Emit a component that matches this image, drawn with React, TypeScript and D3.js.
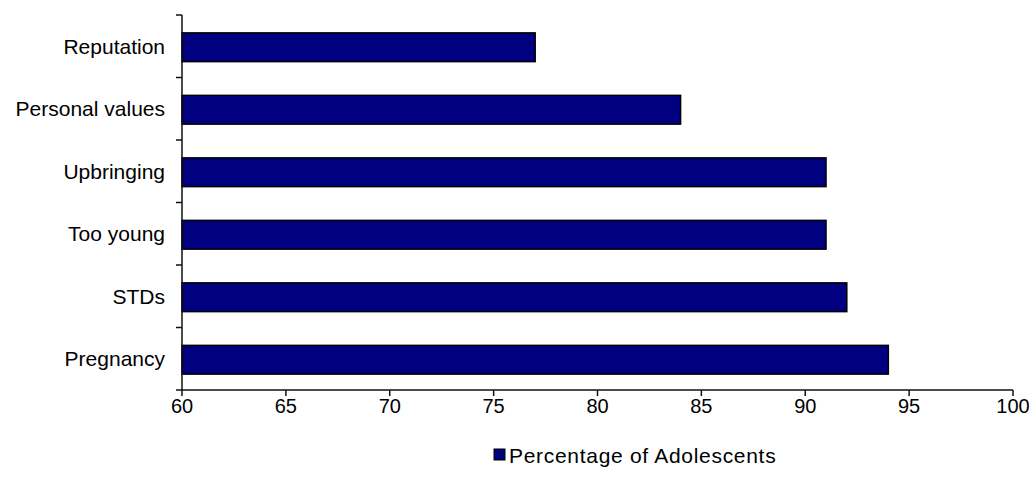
import React from "react";
import * as d3 from "d3";

const categories = ["Reputation", "Personal values", "Upbringing", "Too young", "STDs", "Pregnancy"];
const values = [77, 84, 91, 91, 92, 94];
const xTicks = [60, 65, 70, 75, 80, 85, 90, 95, 100];
const seriesName = "Percentage of Adolescents";

const W = 1029;
const H = 487;
const left = 182;
const right = 1013;
const top = 15;
const bottom = 390;
const font = "'Liberation Sans', Arial, sans-serif";

export default function App() {
  const x = d3.scaleLinear().domain([60, 100]).range([left, right]);
  const y = d3.scaleBand<string>().domain(categories).range([top, bottom]).paddingInner(0.54).paddingOuter(0.27);
  const step = y.step();
  const boundaries = d3.range(categories.length + 1).map((i) => top + i * step);

  return (
    <svg width={W} height={H} style={{ position: "absolute", left: 0, top: 0, background: "#fff" }}>
      <rect x={0} y={0} width={W} height={H} fill="#fff" />
      {categories.map((c, i) => (
        <rect
          key={c}
          x={x(60)}
          y={(y(c) as number) + 1}
          width={x(values[i]) - x(60)}
          height={y.bandwidth()}
          fill="#000080"
          stroke="#000"
          strokeWidth={1.5}
        />
      ))}
      {categories.map((c) => (
        <text
          key={c}
          x={165}
          y={(y(c) as number) + y.bandwidth() / 2}
          textAnchor="end"
          dominantBaseline="central"
          fontFamily={font}
          fontSize={21}
          fill="#000"
        >
          {c}
        </text>
      ))}
      <line x1={left} x2={left} y1={top} y2={bottom} stroke="#111" strokeWidth={1.5} />
      <line x1={left} x2={right} y1={bottom} y2={bottom} stroke="#111" strokeWidth={1.5} />
      {boundaries.map((b, i) => (
        <line key={i} x1={left - 6} x2={left} y1={b} y2={b} stroke="#111" strokeWidth={1.5} />
      ))}
      {xTicks.map((t) => (
        <g key={t}>
          <line x1={x(t)} x2={x(t)} y1={bottom} y2={bottom + 6} stroke="#111" strokeWidth={1.5} />
          <text x={x(t)} y={413} textAnchor="middle" fontFamily={font} fontSize={20} fill="#000">
            {t}
          </text>
        </g>
      ))}
      <rect x={494} y={449} width={11} height={11} fill="#000080" stroke="#000" strokeWidth={1} />
      <text x={509} y={455} dominantBaseline="central" fontFamily={font} fontSize={21} letterSpacing={0.7} fill="#000">
        {seriesName}
      </text>
    </svg>
  );
}
